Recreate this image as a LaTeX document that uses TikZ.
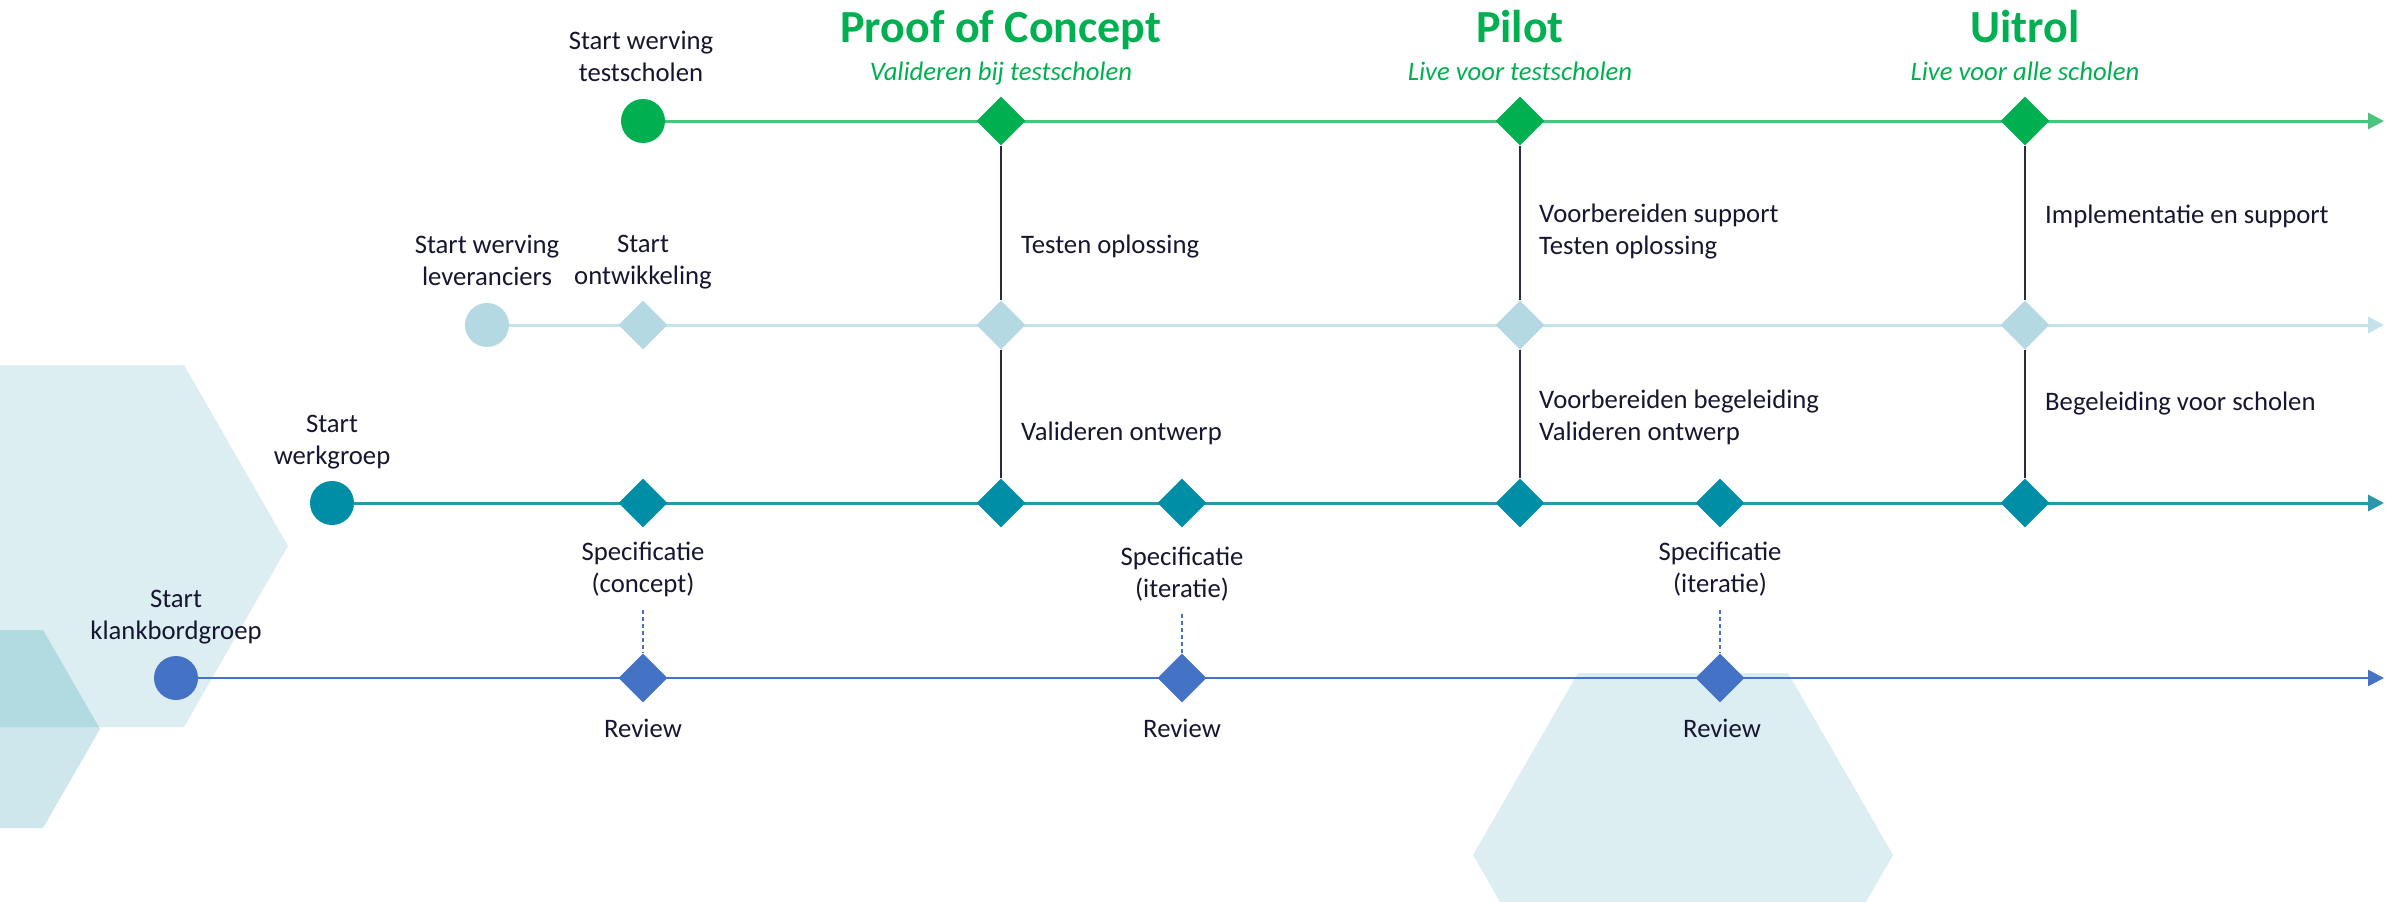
\documentclass[tikz,border=0pt]{standalone}
\usepackage{fontspec}
\setmainfont{Carlito}
\usetikzlibrary{shapes.geometric,arrows.meta}
\pgfdeclarelayer{hexlayer}
\pgfdeclarelayer{linelayer}
\pgfsetlayers{hexlayer,linelayer,main}
\definecolor{cgreen}{HTML}{00B050}
\definecolor{cgreenline}{HTML}{4CC27F}
\definecolor{clight}{HTML}{B5D9E2}
\definecolor{clightline}{HTML}{C4E2E9}
\definecolor{cteal}{HTML}{008EA6}
\definecolor{ctealline}{HTML}{2A97AD}
\definecolor{cblue}{HTML}{4472C4}
\definecolor{ctext}{HTML}{161630}
\definecolor{cvline}{HTML}{2A2A40}
\definecolor{chex}{HTML}{DCEEF2}
\definecolor{chexs}{HTML}{CDE7EC}
\definecolor{chexo}{HTML}{B2DBE1}
\begin{document}
\begin{tikzpicture}[x=1pt,y=-1pt,
  dot/.style={circle,inner sep=0pt,minimum size=44pt,draw=none},
  dia/.style={diamond,inner sep=0pt,minimum width=49pt,minimum height=49pt,draw=none},
  lbl/.style={text=ctext,inner sep=0pt,font=\fontsize{26.7}{32}\selectfont,align=center,anchor=base},
  lbll/.style={text=ctext,inner sep=0pt,font=\fontsize{26.7}{32}\selectfont,align=left,anchor=base west},
  ttl/.style={text=cgreen,inner sep=0pt,font=\fontsize{46}{55}\selectfont\bfseries,anchor=base},
  sub/.style={text=cgreen,inner sep=0pt,font=\fontsize{26.7}{32}\selectfont\itshape,anchor=base},
  tl/.style={line width=3pt,-{Triangle[length=16pt,width=16pt]}},
  vline/.style={draw=cvline,line width=1.3pt},
  dline/.style={draw=cblue,line width=1.3pt,dash pattern=on 4pt off 3pt}]
\useasboundingbox (0,0) rectangle (2399,902);
% background hexagons
\begin{pgfonlayer}{hexlayer}
\clip (0,0) rectangle (2399,902);
\fill[chex] (288,546) -- (184,365) -- (-24,365) -- (-128,546) -- (-24,727) -- (184,727) -- cycle;
\fill[chexs] (100,729) -- (43,630) -- (-71,630) -- (-128,729) -- (-71,828) -- (43,828) -- cycle;
\begin{scope}
\clip (288,546) -- (184,365) -- (-24,365) -- (-128,546) -- (-24,727) -- (184,727) -- cycle;
\fill[chexo] (100,729) -- (43,630) -- (-71,630) -- (-128,729) -- (-71,828) -- (43,828) -- cycle;
\end{scope}
\fill[chex] (1893,855) -- (1788,673) -- (1578,673) -- (1473,855) -- (1578,1037) -- (1788,1037) -- cycle;
\end{pgfonlayer}
% green row
\node[dot,fill=cgreen] (g0) at (643,121) {};
\node[dia,fill=cgreen] (g1) at (1001,121) {};
\node[dia,fill=cgreen] (g2) at (1520,121) {};
\node[dia,fill=cgreen] (g3) at (2025,121) {};
\coordinate (ge) at (2384,121);
% light row
\node[dot,fill=clight] (l0) at (487,325) {};
\node[dia,fill=clight] (l1) at (643,325) {};
\node[dia,fill=clight] (l2) at (1001,325) {};
\node[dia,fill=clight] (l3) at (1520,325) {};
\node[dia,fill=clight] (l4) at (2025,325) {};
\coordinate (le) at (2384,325);
% teal row
\node[dot,fill=cteal] (t0) at (332,503) {};
\node[dia,fill=cteal] (t1) at (643,503) {};
\node[dia,fill=cteal] (t2) at (1001,503) {};
\node[dia,fill=cteal] (t3) at (1182,503) {};
\node[dia,fill=cteal] (t4) at (1520,503) {};
\node[dia,fill=cteal] (t5) at (1720,503) {};
\node[dia,fill=cteal] (t6) at (2025,503) {};
\coordinate (te) at (2384,503);
% blue row
\node[dot,fill=cblue] (b0) at (176,678) {};
\node[dia,fill=cblue] (b1) at (643,678) {};
\node[dia,fill=cblue] (b2) at (1182,678) {};
\node[dia,fill=cblue] (b3) at (1720,678) {};
\coordinate (be) at (2384,678);
\coordinate (d1) at (643,610);
\coordinate (d2) at (1182,614);
\coordinate (d3) at (1720,610);
% titles
\node[ttl] (poc) at (1001,42) {Proof of Concept};
\node[sub] (pocs) at (1001,80) {Valideren bij testscholen};
\node[ttl] (pil) at (1520,42) {Pilot};
\node[sub] (pils) at (1520,80) {Live voor testscholen};
\node[ttl] (uit) at (2025,42) {Uitrol};
\node[sub] (uits) at (2025,80) {Live voor alle scholen};
% labels (base anchor = baseline of last line)
\node[lbl] (sg) at (641,81) {Start werving\\testscholen};
\node[lbl] (sl) at (487,285) {Start werving\\leveranciers};
\node[lbl] (so) at (643,284) {Start\\ontwikkeling};
\node[lbl] (sw) at (332,464) {Start\\werkgroep};
\node[lbl] (sk) at (176,639) {Start\\klankbordgroep};
\node[lbl] (sp1) at (643,592) {Specificatie\\(concept)};
\node[lbl] (sp2) at (1182,597) {Specificatie\\(iteratie)};
\node[lbl] (sp3) at (1720,592) {Specificatie\\(iteratie)};
\node[lbl] (r1) at (643,737) {Review};
\node[lbl] (r2) at (1182,737) {Review};
\node[lbl] (r3) at (1722,737) {Review};
\node[lbll] (a1) at (1021,253) {Testen oplossing};
\node[lbll] (a2) at (1021,440) {Valideren ontwerp};
\node[lbll] (a3) at (1539,254) {Voorbereiden support\\Testen oplossing};
\node[lbll] (a4) at (1539,440) {Voorbereiden begeleiding\\Valideren ontwerp};
\node[lbll] (a5) at (2045,223) {Implementatie en support};
\node[lbll] (a6) at (2045,410) {Begeleiding voor scholen};
% connectors
\begin{pgfonlayer}{linelayer}
\draw[tl,cgreenline] (g0.center) -- (ge);
\draw[tl,clightline] (l0.center) -- (le);
\draw[tl,ctealline] (t0.center) -- (te);
\draw[tl,cblue,line width=2.5pt] (b0.center) -- (be);
\draw[vline] (g1) -- (l2);
\draw[vline] (l2) -- (t2);
\draw[vline] (g2) -- (l3);
\draw[vline] (l3) -- (t4);
\draw[vline] (g3) -- (l4);
\draw[vline] (l4) -- (t6);
\draw[dline] (d1) -- (b1.north);
\draw[dline] (d2) -- (b2.north);
\draw[dline] (d3) -- (b3.north);
\end{pgfonlayer}
\end{tikzpicture}
\end{document}
